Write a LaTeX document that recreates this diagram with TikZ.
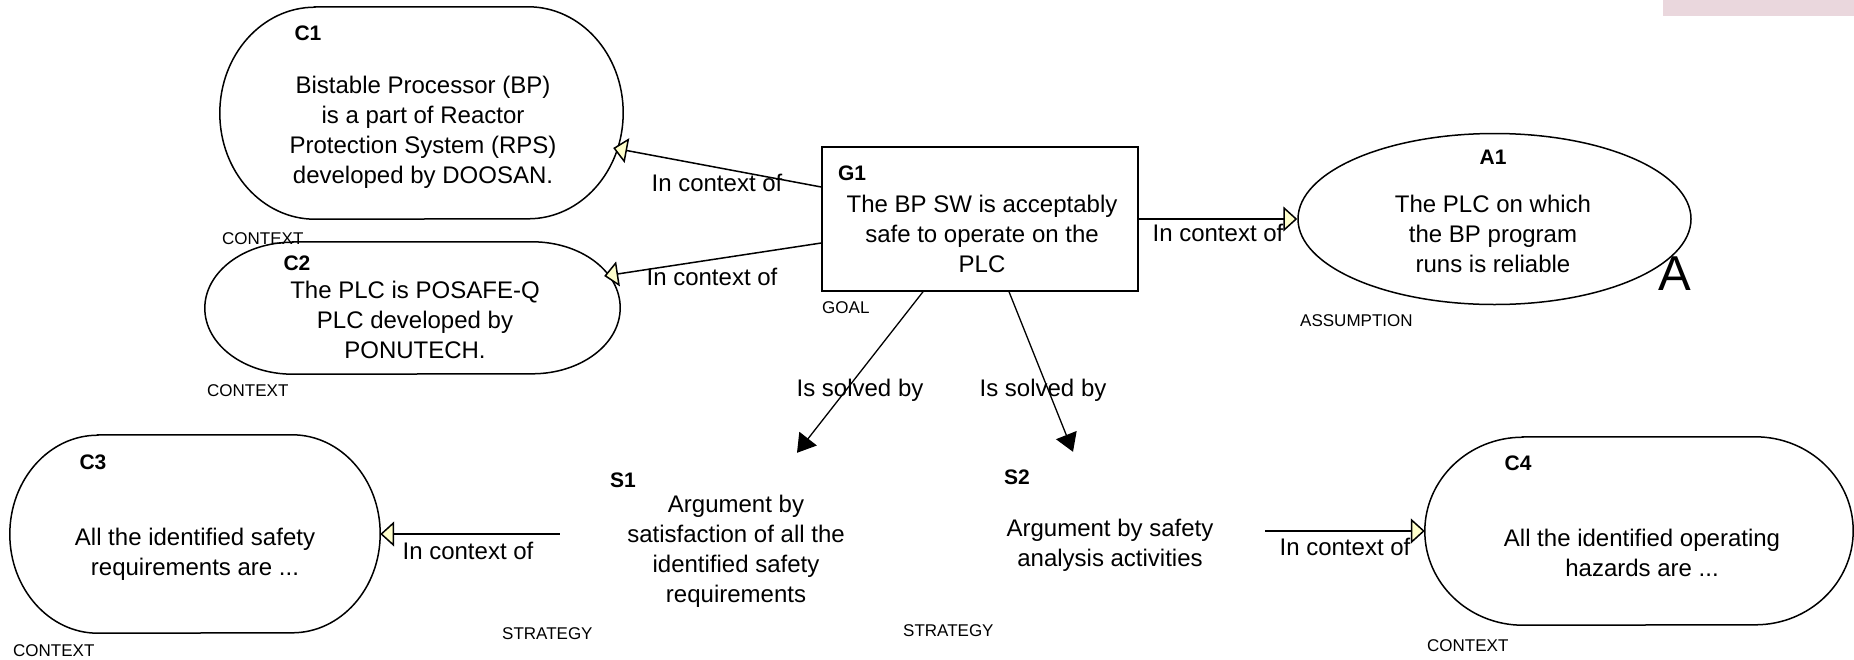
\documentclass[tikz,border=0pt]{standalone}
\usepackage{fontspec}
\setmainfont{Liberation Sans}
\usetikzlibrary{arrows.meta,shapes.geometric}

\definecolor{tipfill}{HTML}{FFFFCC}
\definecolor{barpink}{HTML}{EAD7DD}

\newcommand\bodyfont{\fontsize{24}{30}\selectfont}
\newcommand\idfont{\bfseries\fontsize{21}{25}\selectfont}
\newcommand\typefont{\fontsize{17}{20}\selectfont}

% Stadium outline around an (invisible) frame node: #1 node, #2 end x-radius, #3 half height
\newcommand\stadiumoutline[3]{%
  \draw[outline] ([xshift=#2]#1.north west) -- ([xshift=-#2]#1.north east)
    arc[start angle=90,end angle=-90,x radius=#2,y radius=#3]
    -- ([xshift=#2]#1.south west)
    arc[start angle=270,end angle=90,x radius=#2,y radius=#3] -- cycle;}

\tikzset{
  outline/.style={line width=1.5pt},
  goalbox/.style={draw, line width=1.5pt, inner sep=0pt},
  frame/.style={inner sep=0pt},
  body/.style={font=\bodyfont, align=center, inner sep=0pt},
  ident/.style={font=\idfont, inner sep=0pt, text height=15pt, text depth=0pt},
  kind/.style={font=\typefont, anchor=west, inner sep=0pt, text height=12.2pt, text depth=0pt},
  edgelabel/.style={font=\bodyfont, inner sep=0pt, text height=17pt, text depth=0pt},
  incontext/.style={line width=1.5pt, -{Triangle[length=14pt,width=25pt,fill=tipfill]}},
  solvedby/.style={line width=1.3pt, -{Triangle[length=18pt,width=22pt]}},
}

\begin{document}
\begin{tikzpicture}[x=1pt,y=-1pt]
\useasboundingbox (0,0) rectangle (1854,659);
\fill[barpink] (1663,0) rectangle (1854,16);

% ---------- context C1 ----------
\node[frame, minimum width=403pt, minimum height=212pt] (C1) at (421.5,113) {};
\stadiumoutline{C1}{95pt}{106pt}
\node[ident] (C1id) at (308,33) {C1};
\node[body] (C1txt) at (423,132) {Bistable Processor (BP)\\is a part of Reactor\\Protection System (RPS)\\developed by DOOSAN.};
\node[kind] (C1kind) at (222,238) {CONTEXT};

% ---------- context C2 ----------
\node[frame, minimum width=415pt, minimum height=132pt] (C2) at (412.5,308) {};
\stadiumoutline{C2}{88pt}{66pt}
\node[ident] (C2id) at (297,263) {C2};
\node[body] (C2txt) at (415,320) {The PLC is POSAFE-Q\\PLC developed by\\PONUTECH.};
\node[kind] (C2kind) at (207,390) {CONTEXT};

% ---------- goal G1 ----------
\node[goalbox, minimum width=316pt, minimum height=144pt] (G1) at (980,219) {};
\node[ident] (G1id) at (852,173) {G1};
\node[body] (G1txt) at (982,234) {The BP SW is acceptably\\safe to operate on the\\PLC};
\node[kind] (G1kind) at (822,307) {GOAL};

% ---------- assumption A1 ----------
\node[draw, ellipse, line width=1.5pt, inner sep=0pt, minimum width=393pt, minimum height=171pt] (A1) at (1494.5,219) {};
\node[ident] (A1id) at (1493,157) {A1};
\node[body] (A1txt) at (1493,234) {The PLC on which\\the BP program\\runs is reliable};
\node[font=\fontsize{49}{50}\selectfont, inner sep=0pt, text height=35pt, text depth=0pt] (A1mark) at (1675,273) {A};
\node[kind] (A1kind) at (1300,320) {ASSUMPTION};

% ---------- context C3 ----------
\node[frame, minimum width=370pt, minimum height=198pt] (C3) at (195,534) {};
\stadiumoutline{C3}{88pt}{99pt}
\node[ident] (C3id) at (93,462) {C3};
\node[body] (C3txt) at (195,554) {All the identified safety\\requirements are ...};
\node[kind] (C3kind) at (13,650) {CONTEXT};

% ---------- strategies ----------
\node[body, minimum width=352pt, minimum height=196pt] (S1) at (736,551) {Argument by\\satisfaction of all the\\identified safety\\requirements};
\node[ident] (S1id) at (623,480) {S1};
\node[kind] (S1kind) at (502,633) {STRATEGY};

\node[body, minimum width=310pt, minimum height=186pt] (S2) at (1110,545) {Argument by safety\\analysis activities};
\node[ident] (S2id) at (1017,477) {S2};
\node[kind] (S2kind) at (903,630) {STRATEGY};

% ---------- context C4 ----------
\node[frame, minimum width=428pt, minimum height=188pt] (C4) at (1639,531) {};
\stadiumoutline{C4}{98pt}{94pt}
\node[ident] (C4id) at (1518,463) {C4};
\node[body] (C4txt) at (1642,553) {All the identified operating\\hazards are ...};
\node[kind] (C4kind) at (1427,645) {CONTEXT};

% ---------- connectors ----------
\draw[incontext] ([yshift=32pt]G1.west) -- ([xshift=-10pt,yshift=-35pt]C1.east);
\node[edgelabel] (L1) at (717,183) {In context of};

\draw[incontext] ([yshift=-24pt]G1.west) -- ([xshift=-16pt,yshift=32pt]C2.east);
\node[edgelabel] (L2) at (712,277) {In context of};

\draw[incontext] (G1.east) -- (A1.west);
\node[edgelabel] (L3) at (1218,233) {In context of};

\draw[solvedby] ([xshift=-57pt]G1.south) -- ([xshift=61pt]S1.north);
\node[edgelabel] (L4) at (860,388) {Is solved by};

\draw[solvedby] ([xshift=29pt]G1.south) -- ([xshift=-37pt]S2.north);
\node[edgelabel] (L5) at (1043,388) {Is solved by};

\draw[incontext] ([yshift=17pt]S1.west) -- (C3.east);
\node[edgelabel] (L6) at (468,551) {In context of};

\draw[incontext] ([yshift=14pt]S2.east) -- (C4.west);
\node[edgelabel] (L7) at (1345,547) {In context of};
\end{tikzpicture}
\end{document}
